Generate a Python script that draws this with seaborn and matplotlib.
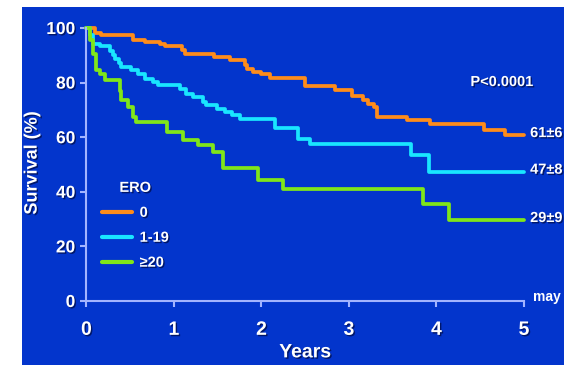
import numpy as np
import pandas as pd
import seaborn as sns
import matplotlib
matplotlib.use('Agg')
import matplotlib.pyplot as plt
import matplotlib.patheffects as pe
from matplotlib.patches import Rectangle

# Kaplan-Meier steps (years, survival %)
t_ero0 = [0, 0.10, 0.17, 0.53, 0.67, 0.84, 0.90, 1.09, 1.13, 1.46, 1.64, 1.81, 1.84,
          1.90, 2.00, 2.10, 2.50, 2.84, 3.03, 3.16, 3.22, 3.29, 3.32, 3.66, 3.93,
          4.54, 4.78, 5.0]
s_ero0 = [100, 98.3, 97.5, 95.5, 94.9, 94.2, 93.4, 91.8, 90.3, 89.4, 88.4, 86.5, 84.8,
          83.7, 83.3, 81.8, 78.8, 77.2, 75.0, 73.5, 72.3, 70.9, 67.4, 66.2, 64.9,
          62.5, 60.7, 60.7]

t_ero1 = [0, 0.04, 0.08, 0.15, 0.27, 0.30, 0.33, 0.37, 0.40, 0.51, 0.59, 0.67, 0.76,
          0.82, 1.07, 1.14, 1.22, 1.33, 1.37, 1.49, 1.58, 1.66, 1.76, 2.16, 2.42,
          2.56, 3.71, 3.92, 5.0]
s_ero1 = [100, 97.5, 94.3, 93.3, 91.5, 90.0, 88.5, 87.0, 85.7, 84.5, 83.1, 81.5, 80.3,
          79.0, 77.8, 76.0, 74.8, 73.0, 71.7, 70.5, 69.3, 68.1, 66.6, 63.2, 59.5,
          57.5, 53.4, 47.3, 47.3]

t_ero20 = [0, 0.04, 0.075, 0.11, 0.15, 0.21, 0.38, 0.40, 0.48, 0.53, 0.57, 0.92, 1.10,
           1.28, 1.45, 1.56, 1.96, 2.25, 3.85, 4.14, 5.0]
s_ero20 = [100, 95.5, 90.6, 84.5, 83.3, 80.9, 77.0, 73.5, 71.1, 67.4, 65.6, 62.0, 58.9,
           57.1, 54.6, 48.6, 44.5, 41.0, 35.7, 29.6, 29.6]

grupos = ['0', '1-19', '≥20']
finales = ['61±6', '47±8', '29±9']
colores = ['#ff8c1a', '#19e6ff', '#80e619']

azul = '#0335cc'
eje = '#a3b4ff'

df = pd.concat([
    pd.DataFrame({'Years': t_ero0, 'Survival': s_ero0, 'ERO': grupos[0]}),
    pd.DataFrame({'Years': t_ero1, 'Survival': s_ero1, 'ERO': grupos[1]}),
    pd.DataFrame({'Years': t_ero20, 'Survival': s_ero20, 'ERO': grupos[2]}),
])

sns.set_style('ticks')
plt.rcParams['font.family'] = ['Liberation Sans', 'DejaVu Sans']
plt.rcParams['font.weight'] = 'bold'

fig = plt.figure(figsize=(5.64, 3.65), dpi=100, facecolor='white')
fig.patches.append(Rectangle((21.5 / 564, 0), 1, 358 / 365, transform=fig.transFigure,
                             facecolor=azul, edgecolor='none', zorder=-10))
ax = fig.add_axes([86.4 / 564, 64 / 365, 437.6 / 564, 273 / 365])
ax.set_facecolor('none')

sombra = [pe.withSimplePatchShadow(offset=(1, -1), shadow_rgbFace='#000a40', alpha=0.7)]

sns.lineplot(data=df, x='Years', y='Survival', hue='ERO', palette=colores,
             hue_order=grupos, estimator=None, sort=False, drawstyle='steps-post',
             linewidth=2.7, ax=ax, clip_on=False)

ax.set_xlim(0, 5)
ax.set_ylim(0, 100)
ax.set_xticks(range(0, 6))
ax.set_yticks(range(0, 101, 20))
for lado in ['top', 'right']:
    ax.spines[lado].set_visible(False)
for lado in ['left', 'bottom']:
    ax.spines[lado].set_color(eje)
    ax.spines[lado].set_linewidth(1.5)
ax.tick_params(axis='both', colors=eje, width=1.5, length=4, direction='out')
ax.tick_params(axis='y', labelsize=12.5, labelcolor='white', pad=4)
ax.tick_params(axis='x', labelsize=14, labelcolor='white', pad=11)
for lab in ax.get_xticklabels() + ax.get_yticklabels():
    lab.set_fontweight('bold')
    lab.set_path_effects(sombra)

ax.set_xlabel('Years', fontsize=14, fontweight='bold', color='white', va='center')
ax.xaxis.set_label_coords(0.5, -0.19)
ax.set_ylabel('Survival (%)', fontsize=13, fontweight='bold', color='white', va='center')
ax.yaxis.set_label_coords(-0.124, 0.505)
ax.xaxis.label.set_path_effects(sombra)
ax.yaxis.label.set_path_effects(sombra)

handles, labels = ax.get_legend_handles_labels()
leg = ax.legend(handles, labels, title='ERO', frameon=False, loc='upper left',
                bbox_to_anchor=(0.035, 0.44), borderaxespad=0, borderpad=0,
                fontsize=10.5, title_fontsize=10.5, labelcolor='white',
                handlelength=2.1, handletextpad=0.5, labelspacing=0.75)
leg.get_title().set_color('white')
leg.get_title().set_fontweight('bold')
leg.get_title().set_path_effects(sombra)
for txt in leg.get_texts():
    txt.set_fontweight('bold')
    txt.set_path_effects(sombra)
for linea in leg.get_lines():
    linea.set_linewidth(3)

ax.text(4.75, 80.2, 'P<0.0001', color='white', fontsize=10.5, fontweight='bold',
        ha='center', va='center', path_effects=sombra)
for s, lab in zip([s_ero0[-1], s_ero1[-1], s_ero20[-1]], finales):
    ax.text(5.07, s + 0.8, lab, color='white', fontsize=10.5, fontweight='bold',
            ha='left', va='center', path_effects=sombra, clip_on=False)

fig.text(533 / 564, 68 / 365, 'may', color='white', fontsize=10, fontweight='bold',
         ha='left', va='center')

fig.savefig('out.png', dpi=100, facecolor='white')
